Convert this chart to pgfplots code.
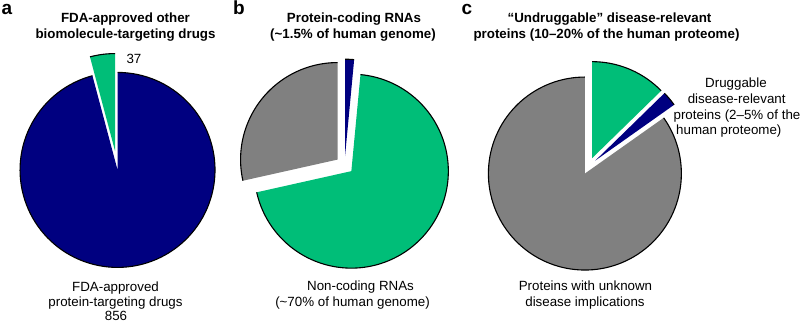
\documentclass[border=0pt]{standalone}
\usepackage{pgfplots}
\pgfplotsset{compat=1.18}
\usepackage{fontspec}
\setmainfont{Liberation Sans}
\definecolor{pnavy}{RGB}{0,0,128}
\definecolor{pgreen}{RGB}{0,190,120}
\definecolor{pgray}{RGB}{128,128,128}

% ---- data (slice values) ----
% pie a: FDA-approved protein-targeting drugs / other biomolecule-targeting drugs
\def\aProt{856}\def\aOther{37}
% pie b (% of human genome): protein-coding / non-coding / rest
\def\bCod{1.5}\def\bNon{70}\def\bRest{28.5}
% pie c (% of human proteome): undruggable / druggable / unknown
\def\cUnd{12.7}\def\cDrug{2.5}\def\cUnk{84.8}

% slice boundaries (start at 12 o'clock, clockwise)
\pgfmathsetmacro{\aA}{90-\aProt/(\aProt+\aOther)*360}
\pgfmathsetmacro{\bA}{90-\bCod/100*360}
\pgfmathsetmacro{\bB}{\bA-\bNon/100*360}
\pgfmathsetmacro{\cA}{90-\cUnd/100*360}
\pgfmathsetmacro{\cB}{\cA-\cDrug/100*360}

% #1 cx, #2 cy, #3 r, #4 angle lo, #5 angle hi, #6 explode, #7 colour
\newcommand{\slice}[7]{%
  \pgfmathsetmacro{\smid}{(#4+#5)/2}%
  \pgfmathsetmacro{\ox}{#1+#6*cos(\smid)}%
  \pgfmathsetmacro{\oy}{#2+#6*sin(\smid)}%
  \edef\tmp{%
    \noexpand\addplot[fill=#7, draw=none, domain=#4:#5, samples=120, forget plot]
      ({\ox+#3*cos(x)},{\oy+#3*sin(x)}) -- (axis cs:\ox,\oy) -- cycle;
    \noexpand\addplot[black, line width=1.1bp, domain=#4:#5, samples=120, forget plot]
      ({\ox+#3*cos(x)},{\oy+#3*sin(x)});
  }\tmp}

\newcommand{\tfont}{\fontsize{13.33bp}{16bp}\selectfont\bfseries}
\newcommand{\nfont}{\fontsize{13.33bp}{16bp}\selectfont}
\newcommand{\lfont}{\fontsize{19bp}{22bp}\selectfont\bfseries}

\begin{document}
\begin{tikzpicture}
\useasboundingbox (0,0) rectangle (800bp,322bp);
\begin{axis}[at={(0,0)}, anchor=south west, scale only axis,
  width=800bp, height=322bp, xmin=0, xmax=800, ymin=0, ymax=322,
  hide axis, clip=false]
% pie a
\slice{116.3}{161.5}{97.5}{\aA}{90}{9.5}{pnavy}
\slice{116.3}{161.5}{97.5}{-270}{\aA}{9.5}{pgreen}
% pie b
\slice{344.6}{156.8}{97}{\bA}{90}{9}{pnavy}
\slice{344.6}{156.8}{97}{\bB}{\bA}{9}{pgreen}
\slice{344.6}{156.8}{97}{-270}{\bB}{9}{pgray}
% pie c
\slice{588.8}{156}{96.5}{\cA}{90}{8.5}{pgreen}
\slice{588.8}{156}{96.5}{\cB}{\cA}{8.5}{pnavy}
\slice{588.8}{156}{96.5}{-270}{\cB}{8.5}{pgray}

% panel labels
\node[anchor=base, font=\lfont] at (axis cs:7,307) {a};
\node[anchor=base, font=\lfont] at (axis cs:239,307) {b};
\node[anchor=base, font=\lfont] at (axis cs:467,307) {c};

% titles
\node[anchor=base, font=\tfont] at (axis cs:125.5,299.3) {FDA-approved other};
\node[anchor=base, font=\tfont] at (axis cs:125.5,283.5) {biomolecule-targeting drugs};
\node[anchor=base, font=\tfont] at (axis cs:354,299.3) {Protein-coding RNAs};
\node[anchor=base, font=\tfont] at (axis cs:353,283.5) {(\textasciitilde1.5\% of human genome)};
\node[anchor=base, font=\tfont] at (axis cs:609.5,299.3) {“Undruggable” disease-relevant};
\node[anchor=base, font=\tfont] at (axis cs:606.5,283.5) {proteins (10–20\% of the human proteome)};

% slice labels
\node[anchor=base west, font=\nfont] at (axis cs:123,258.7) {37};
\node[anchor=base, font=\nfont] at (axis cs:115.5,30.5) {FDA-approved};
\node[anchor=base, font=\nfont] at (axis cs:115.5,15.5) {protein-targeting drugs};
\node[anchor=base, font=\nfont, inner sep=1bp] at (axis cs:116,1.8) {856};
\node[anchor=base, font=\nfont] at (axis cs:360.5,31.3) {Non-coding RNAs};
\node[anchor=base, font=\nfont] at (axis cs:352.5,15.5) {(\textasciitilde70\% of human genome)};
\node[anchor=base, font=\nfont] at (axis cs:585.5,31.3) {Proteins with unknown};
\node[anchor=base, font=\nfont] at (axis cs:585,15.5) {disease implications};
\node[anchor=base, font=\nfont] at (axis cs:736,234) {Druggable};
\node[anchor=base, font=\nfont] at (axis cs:736.7,218.7) {disease-relevant};
\node[anchor=base, font=\nfont] at (axis cs:737,202.7) {proteins (2–5\% of the};
\node[anchor=base, font=\nfont] at (axis cs:728.8,187) {human proteome)};
\end{axis}
\end{tikzpicture}
\end{document}
